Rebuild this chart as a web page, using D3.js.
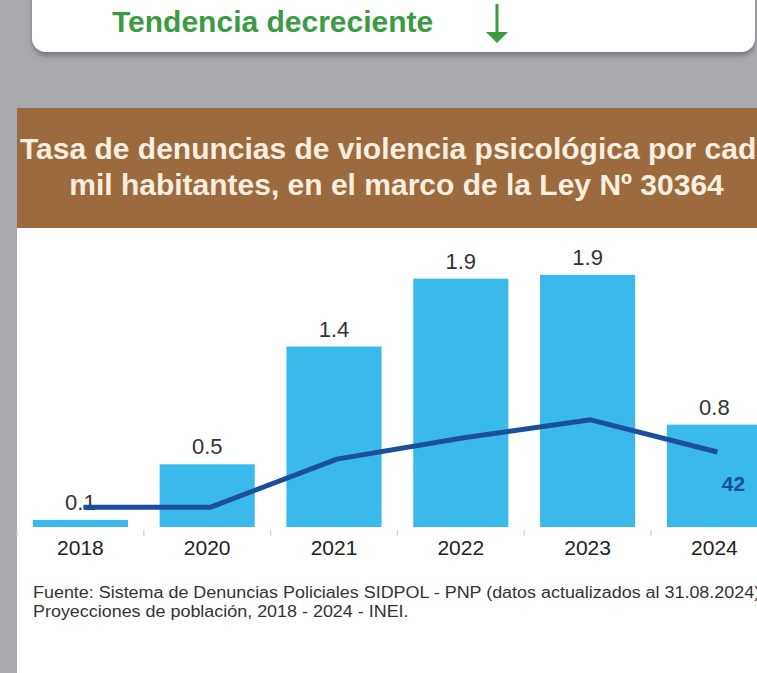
<!DOCTYPE html>
<html>
<head>
<meta charset="utf-8">
<script src="https://cdn.jsdelivr.net/npm/d3@7"></script>
<style>
  html, body { margin: 0; padding: 0; background: #a7a9ac; }
  svg { display: block; font-family: "Liberation Sans", Arial, sans-serif; }
</style>
</head>
<body>
<div id="chart"></div>
<script>
// Data
var years = ['2018', '2020', '2021', '2022', '2023', '2024'];
var rates = [0.055, 0.49, 1.41, 1.94, 1.97, 0.80];        // bars (tasa)
var rateLabels = ['0.1', '0.5', '1.4', '1.9', '1.9', '0.8'];
var lineValues = [11, 11, 38, 50, 60, 42];                  // dark blue line
var lineLabels = ['', '', '', '', '', '42'];
var titleLines = ['Tasa de denuncias de violencia psicológica por cada', 'mil habitantes, en el marco de la Ley Nº 30364'];
var sourceLines = ['Fuente: Sistema de Denuncias Policiales SIDPOL - PNP (datos actualizados al 31.08.2024)', 'Proyecciones de población, 2018 - 2024 - INEI.'];

var W = 757, H = 673;
var svg = d3.select('#chart').append('svg').attr('width', W).attr('height', H);

// Background
	svg.append('rect').attr('width', W).attr('height', H).attr('fill', '#a7a9ac');

	var defs = svg.append('defs');
	defs.append('filter').attr('id', 'shadow').attr('x', '-5%').attr('y', '-50%').attr('width', '110%').attr('height', '200%')
		.append('feDropShadow').attr('dx', 0).attr('dy', 4).attr('stdDeviation', 2).attr('flood-color', '#6f7175').attr('flood-opacity', 0.8);

// Top card with the trend note
	svg.append('rect')
		.attr('x', 32).attr('y', -20).attr('width', 723).attr('height', 72)
		.attr('rx', 14).attr('fill', '#ffffff')
		.attr('filter', 'url(#shadow)');

	svg.append('text')
		.attr('x', 112).attr('y', 32)
		.attr('fill', '#3a9b40')
		.style('font-size', '30px').style('font-weight', 'bold')
		.text('Tendencia decreciente');

	// Down arrow
	svg.append('line').attr('x1', 497).attr('x2', 497).attr('y1', 4).attr('y2', 36)
		.attr('stroke', '#3a9b40').attr('stroke-width', 3);
	svg.append('path').attr('d', 'M486,32 L508,32 L497,43 Z').attr('fill', '#3a9b40');

// Brown header (the first title line runs off the right edge, as in the source)
	svg.append('rect').attr('x', 17).attr('y', 108).attr('width', W - 17).attr('height', 120).attr('fill', '#9d6a3d');
	svg.append('g').selectAll('text')
		.data(titleLines)
		.join('text')
			.attr('x', 396.5)
			.attr('y', (d, i) => 159 + i * 36)
			.attr('text-anchor', 'middle')
			.attr('fill', '#fcefdf')
			.style('font-size', '30px').style('font-weight', 'bold')
			.text(d => d);

// White chart panel
	svg.append('rect').attr('x', 17).attr('y', 228).attr('width', W - 17).attr('height', H - 228).attr('fill', '#ffffff');

// Scales
	var x = d3.scaleBand().domain(years).range([17, 17 + 6 * 126.8]).paddingInner(0.25).paddingOuter(0.125);
	var y = d3.scaleLinear().domain([0, 2.5]).range([527, 207]);
	var y2 = d3.scaleLinear().domain([0, 180]).range([527, 205.5]);

	var plot = svg.append('g');

// Bars
	plot.selectAll('rect.bar')
		.data(years)
		.join('rect')
			.attr('class', 'bar')
			.attr('x', d => x(d))
			.attr('y', (d, i) => y(rates[i]))
			.attr('width', x.bandwidth())
			.attr('height', (d, i) => y(0) - y(rates[i]))
			.attr('fill', '#39baeb');

// Bar labels
	plot.selectAll('text.bar-label')
		.data(years)
		.join('text')
			.attr('class', 'bar-label')
			.attr('x', d => x(d) + x.bandwidth() / 2)
			.attr('y', (d, i) => y(rates[i]) - 10)
			.attr('text-anchor', 'middle')
			.attr('fill', '#333333')
			.style('font-size', '22px')
			.text((d, i) => rateLabels[i]);

// Category axis: tick marks between bars, year labels below
	plot.selectAll('line.tick')
		.data(d3.range(years.length))
		.join('line')
			.attr('class', 'tick')
			.attr('x1', i => x.range()[0] + i * x.step())
			.attr('x2', i => x.range()[0] + i * x.step())
			.attr('y1', 530).attr('y2', 536)
			.attr('stroke', '#d2d2d2').attr('stroke-width', 1.2);

	plot.selectAll('text.year')
		.data(years)
		.join('text')
			.attr('class', 'year')
			.attr('x', d => x(d) + x.bandwidth() / 2)
			.attr('y', 555)
			.attr('text-anchor', 'middle')
			.attr('fill', '#222222')
			.style('font-size', '21px')
			.text(d => d);

// Line series
	var line = d3.line()
		.x((d, i) => x(years[i]) + x.bandwidth() / 2 + 3)
		.y(d => y2(d));

	plot.append('path')
		.datum(lineValues)
		.attr('d', line)
		.attr('fill', 'none')
		.attr('stroke', '#1c4f9b')
		.attr('stroke-width', 5)
		.attr('stroke-linejoin', 'round');

	plot.selectAll('text.line-label')
		.data(lineValues)
		.join('text')
			.attr('class', 'line-label')
			.attr('x', (d, i) => x(years[i]) + x.bandwidth() / 2 + 19)
			.attr('y', d => y2(d) + 39)
			.attr('text-anchor', 'middle')
			.attr('fill', '#1c4f9b')
			.style('font-size', '21px').style('font-weight', 'bold')
			.text((d, i) => lineLabels[i]);

// Source note: the source type is wider than it is tall, so stretch it a little
	svg.append('g').selectAll('text')
		.data(sourceLines)
		.join('text')
			.attr('x', 33)
			.attr('y', (d, i) => 598 + i * 19)
			.attr('fill', '#333333')
			.style('font-size', '16px')
			.text(d => d)
			.each(function() {
				var w = this.getComputedTextLength();
				d3.select(this).attr('textLength', w * 1.12).attr('lengthAdjust', 'spacingAndGlyphs');
			});
</script>
</body>
</html>
